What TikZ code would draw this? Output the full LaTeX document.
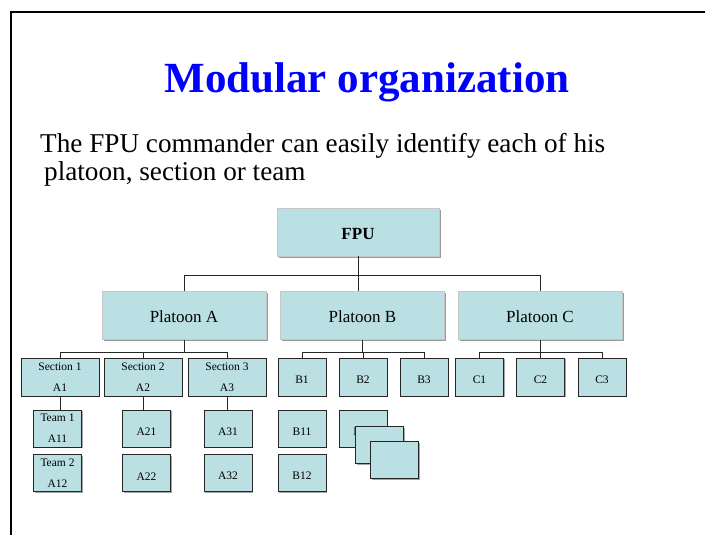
\documentclass[tikz,border=0pt]{standalone}
\usepackage{fontspec}
\setmainfont{Liberation Serif}
\usepackage{xcolor}
\usepackage{tikz}
\usetikzlibrary{positioning, shadows}
\definecolor{boxcyan}{HTML}{BBE0E3}
\definecolor{titleblue}{HTML}{0000FF}

\begin{document}
\begin{tikzpicture}[x=1pt, y=-1pt,
        title/.style={anchor=base, inner sep=0pt, text=titleblue, font=\fontsize{43}{50}\selectfont\bfseries},
        body/.style={anchor=base west, inner sep=0pt, font=\fontsize{27.2}{31}\selectfont},
        bigbox/.style={rectangle, fill=boxcyan, draw=gray!45, line width=0.4pt, inner sep=0pt,
            minimum height=48pt, text height=15pt, drop shadow={shadow xshift=1.5pt, shadow yshift=-1.5pt, fill=gray!80, opacity=1},
            font=\fontsize{17}{20}\selectfont},
        smallbox/.style={rectangle, fill=boxcyan, draw=black!85, line width=0.8pt, inner sep=0pt,
            minimum width=48pt, minimum height=37pt, align=center,
            drop shadow={shadow xshift=1.2pt, shadow yshift=-1.2pt, fill=gray!70, opacity=1},
            font=\fontsize{11.5}{21}\selectfont},
        lowtext/.style={text height=14pt},
        link/.style={draw=black!85, line width=0.7pt}
    ]
    \useasboundingbox (0,0) rectangle (705,535);

    % 边框
    \draw[line width=2pt] (11,535) -- (11,12) -- (705,12);

    % 标题
    \node[title] (head) at (367,93) {Modular organization};
    \node[body] (line1) at (40,153) {The FPU commander can easily identify each of his};
    \node[body] (line2) at (44,180) {platoon, section or team};

    % 上层
    \node[bigbox, minimum width=162pt] (fpu) at (358,232) {\bfseries FPU};
    \node[bigbox, minimum width=164pt] (pa) at (184,315.5) {Platoon A};
    \node[bigbox, minimum width=164pt] (pb) at (362.5,315.5) {Platoon B};
    \node[bigbox, minimum width=164pt] (pc) at (540,315.5) {Platoon C};

    % 中层
    \node[smallbox, minimum width=78pt, minimum height=38pt] (s1) at (60,377) {Section 1\\A1};
    \node[smallbox, minimum width=78pt, minimum height=38pt] (s2) at (143,377) {Section 2\\A2};
    \node[smallbox, minimum width=78pt, minimum height=38pt] (s3) at (227,377) {Section 3\\A3};
    \node[smallbox, lowtext, minimum height=38pt] (b1) at (302,377) {B1};
    \node[smallbox, lowtext, minimum height=38pt] (b2) at (363,377) {B2};
    \node[smallbox, lowtext, minimum height=38pt] (b3) at (424,377) {B3};
    \node[smallbox, lowtext, minimum height=38pt] (c1) at (479.5,377) {C1};
    \node[smallbox, lowtext, minimum height=38pt] (c2) at (540.5,377) {C2};
    \node[smallbox, lowtext, minimum height=38pt] (c3) at (602,377) {C3};

    % 下层
    \node[smallbox] (t1) at (57.5,428.5) {Team 1\\A11};
    \node[smallbox] (t2) at (57.5,473) {Team 2\\A12};
    \node[smallbox, lowtext] (a21) at (146.5,428.5) {A21};
    \node[smallbox, lowtext] (a22) at (146.5,473) {A22};
    \node[smallbox, lowtext] (a31) at (228,428.5) {A31};
    \node[smallbox, lowtext] (a32) at (228,473) {A32};
    \node[smallbox, lowtext] (b11) at (302,428.5) {B11};
    \node[smallbox, lowtext] (b12) at (302,473) {B12};
    \node[smallbox, lowtext] (b21) at (363,428.5) {B21};
    \node[smallbox] (b22) at (379.5,445) {};
    \node[smallbox] (b23) at (394.5,460) {};

    % 连线
    \draw[link] (fpu.south) -- (fpu.south |- pb.north);
    \draw[link] (pa.north) -- ++(0,-16) -| (pc.north);

    \draw[link] (pa.south) -- ++(0,12);
    \draw[link] (s1.north) -- ++(0,-5) -| (s3.north);
    \draw[link] (s2.north) -- ++(0,-5);

    \draw[link] (pb.south) -- ++(0,12);
    \draw[link] (b1.north) -- ++(0,-5) -| (b3.north);
    \draw[link] (b2.north) -- ++(0,-5);

    \draw[link] (pc.south) -- ++(0,12);
    \draw[link] (c1.north) -- ++(0,-5) -| (c3.north);
    \draw[link] (c2.north) -- ++(0,-5);

    \draw[link] (s1.south) -- (s1.south |- t1.north);
    \draw[link] (s2.south) -- (s2.south |- a21.north);
    \draw[link] (s3.south) -- (s3.south |- a31.north);

\end{tikzpicture}
\end{document}
